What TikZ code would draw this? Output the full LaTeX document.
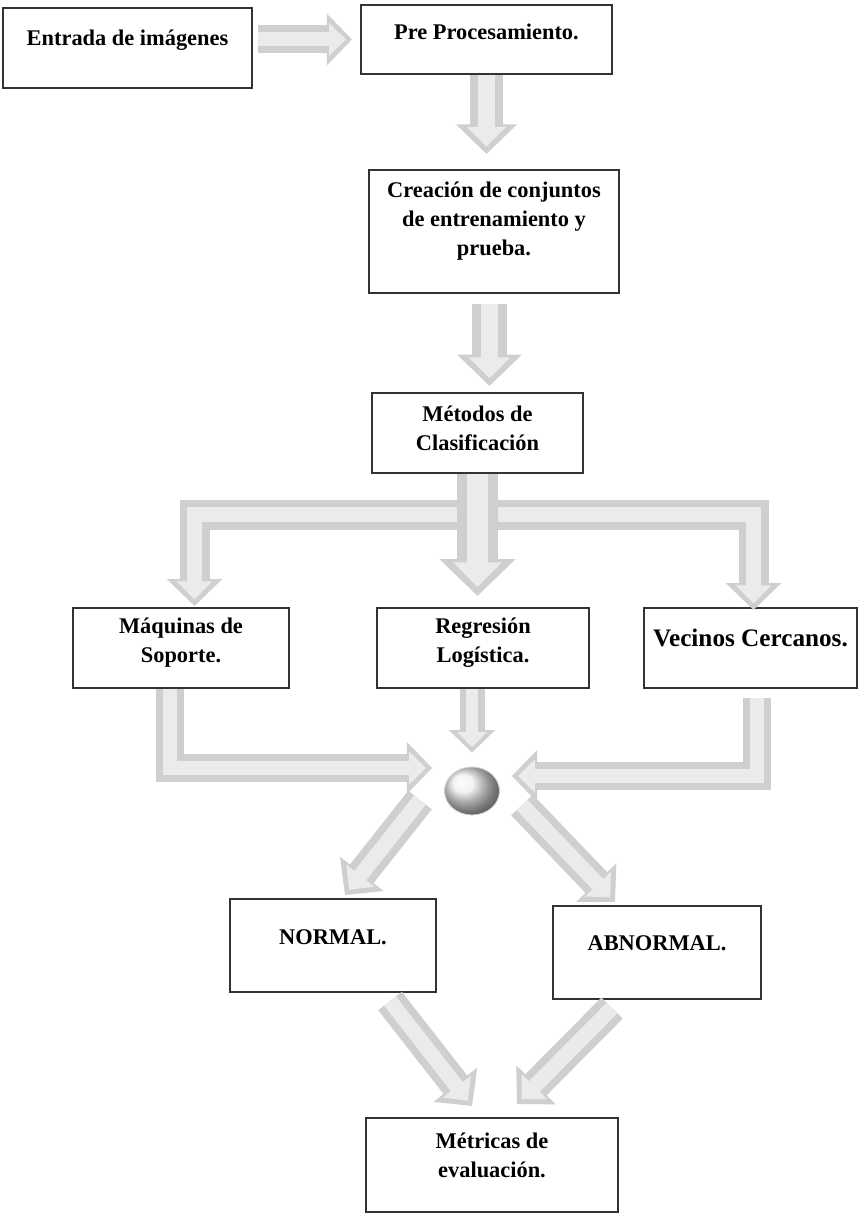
\documentclass[tikz,border=0pt]{standalone}
\usepackage{fontspec}
\setmainfont{Liberation Serif}
\usetikzlibrary{arrows.meta,calc,positioning,shapes.geometric}
\tikzstyle{bx} = [rectangle, draw=black!80, line width=1pt, fill=white, inner sep=0pt]
\tikzstyle{lbl} = [font=\bfseries\fontsize{11.2}{14.5}\selectfont, align=center, text=black]
\tikzstyle{hubball} = [ellipse, inner sep=0pt, ball color=gray!12, draw=gray!35, thin]
\tikzset{barrow/.style={line width=#1, draw=gray!38,
    -{Triangle[width=0pt 1.8, length=0pt 0.9]},
    postaction={draw=gray!16, line width=0.5*#1, shorten >=0.22*#1,
      -{Triangle[width=0pt 2.3, length=0pt 1.2]}}}}

\begin{document}
\begin{tikzpicture}[x=0.5pt, y=-0.5pt]
  \fill[white] (0,0) rectangle (859,1214);

  % boxes
  \node[bx, minimum width=124.5pt, minimum height=40pt,
        label={[lbl, yshift=4pt]center:Entrada de imágenes}] (entrada) at (127.5,48) {};
  \node[bx, minimum width=125.5pt, minimum height=34.5pt,
        label={[lbl, yshift=4pt]center:Pre Procesamiento.}] (pre) at (486.5,39.5) {};
  \node[bx, minimum width=125pt, minimum height=61.5pt,
        label={[lbl, yshift=5pt]center:Creación de conjuntos\\de entrenamiento y\\prueba.}] (creacion) at (494,231.5) {};
  \node[bx, minimum width=105.5pt, minimum height=40pt,
        label={[lbl, yshift=2.5pt]center:Métodos de\\Clasificación}] (metodos) at (477.5,433) {};
  \node[bx, minimum width=108pt, minimum height=40pt,
        label={[lbl, yshift=2.5pt]center:Máquinas de\\Soporte.}] (maquinas) at (181,648) {};
  \node[bx, minimum width=106pt, minimum height=40pt,
        label={[lbl, yshift=2.5pt]center:Regresión\\Logística.}] (regresion) at (483,648) {};
  \node[bx, minimum width=106.5pt, minimum height=40pt,
        label={[lbl, font=\bfseries\fontsize{12.6}{15}\selectfont, yshift=5pt]center:Vecinos Cercanos.}] (vecinos) at (750.5,648) {};
  \node[hubball, minimum width=27.5pt, minimum height=24pt] (hub) at (472,791) {};
  \node[bx, minimum width=103pt, minimum height=46.5pt,
        label={[lbl, yshift=4pt]center:NORMAL.}] (normal) at (333,945.5) {};
  \node[bx, minimum width=104pt, minimum height=46.5pt,
        label={[lbl, yshift=4.5pt]center:ABNORMAL.}] (abnormal) at (657,952.5) {};
  \node[bx, minimum width=126pt, minimum height=47pt,
        label={[lbl, yshift=5pt]center:Métricas de\\evaluación.}] (metricas) at (492,1165) {};

  % arrows
  \draw[barrow=14pt] ($(entrada.east |- pre.west)+(5,0)$) -- ($(pre.west)+(-8,0)$);
  \draw[barrow=16.5pt] (pre.south) -- ($(pre.south |- creacion.north)+(0,-15)$);
  \draw[barrow=17.5pt] ($(creacion.south)+(-4.5,10)$) -- ($(creacion.south |- metodos.north)+(-4.5,-6)$);
  \draw[barrow=15pt] ($(metodos.south)+(-20,40.5)$) -| ($(maquinas.north)+(13.5,-1)$);
  \draw[barrow=15pt] ($(metodos.south)+(20,40.5)$) -| ($(vecinos.north)+(3,3)$);
  \draw[barrow=20.5pt] (metodos.south) -- ($(metodos.south |- regresion.north)+(0,-11)$);
  \draw[barrow=14pt] ($(maquinas.south)+(-11,0)$) |- ($(hub.west)+(-12,-23)$);
  \draw[barrow=14pt] ($(vecinos.south)+(6,9)$) |- ($(hub.east)+(12,-15)$);
  \draw[barrow=12.5pt] (regresion.south -| hub.north) -- ($(hub.north)+(0,-14)$);
  \draw[barrow=15pt] ($(hub.center)+(-52,9)$) -- ($(normal.north)+(12,-3)$);
  \draw[barrow=15pt] ($(hub.center)+(50,14)$) -- ($(abnormal.north)+(-42,-3)$);
  \draw[barrow=15pt] ($(normal.south)+(57,8)$) -- ($(metricas.north)+(-20,-11)$);
  \draw[barrow=15pt] ($(abnormal.south)+(-45,8)$) -- ($(metricas.north)+(25,-13)$);
\end{tikzpicture}
\end{document}
